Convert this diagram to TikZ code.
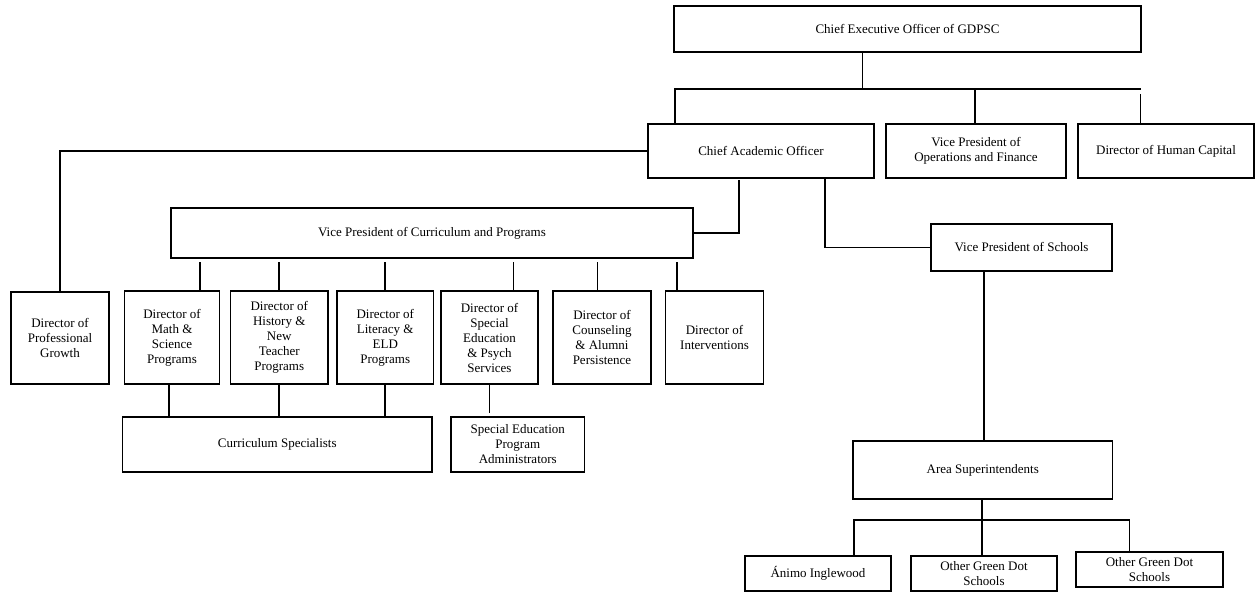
\documentclass[tikz,border=0pt]{standalone}
\usepackage{fontspec}
\setmainfont{Liberation Serif}
\begin{document}
\begin{tikzpicture}[x=1pt,y=-1pt,
  box/.style={draw, line width=1.9pt, inner sep=0pt, align=center,
    font=\fontsize{13}{15}\selectfont},
  conn/.style={line width=1.6pt}]
\useasboundingbox (0,0) rectangle (1256,592);
% top level
\node[box, minimum width=467pt, minimum height=46pt] (ceo) at (907.5,29) {Chief Executive Officer of GDPSC};
\node[box, minimum width=226pt, minimum height=54pt] (cao) at (761,151) {Chief Academic Officer};
\node[box, minimum width=180pt, minimum height=54pt] (ops) at (976,151) {Vice President of\\Operations and Finance};
\node[box, minimum width=176pt, minimum height=54pt] (hc) at (1166,151) {Director of Human Capital};
% second level
\node[box, minimum width=522pt, minimum height=50pt] (vpc) at (432,233) {Vice President of Curriculum and Programs};
\node[box, minimum width=181pt, minimum height=47pt] (vps) at (1021.5,247.5) {Vice President of Schools};
% directors
\node[box, minimum width=98pt, minimum height=92pt] (pg) at (60,338) {Director of\\Professional\\Growth};
\node[box, minimum width=95pt, minimum height=93pt] (math) at (172,337.5) {Director of\\Math \&\\Science\\Programs};
\node[box, minimum width=97.5pt, minimum height=93pt] (hist) at (279.25,337.5) {Director of\\History \&\\New\\Teacher\\Programs};
\node[box, minimum width=96.5pt, minimum height=93pt] (lit) at (385.25,337.5) {Director of\\Literacy \&\\ELD\\Programs};
\node[box, minimum width=97pt, minimum height=93pt] (sped) at (489.5,337.5) {Director of\\Special\\Education\\\& Psych\\Services};
\node[box, minimum width=98pt, minimum height=93pt] (couns) at (602,337.5) {Director of\\Counseling\\\& Alumni\\Persistence};
\node[box, minimum width=98pt, minimum height=93pt] (interv) at (714.5,337.5) {Director of\\Interventions};
% lower
\node[box, minimum width=309.5pt, minimum height=55pt] (cs) at (277.25,444.5) {Curriculum Specialists};
\node[box, minimum width=133.5pt, minimum height=55pt] (sepa) at (517.75,444.5) {Special Education\\Program\\Administrators};
\node[box, minimum width=259.5pt, minimum height=58pt] (as) at (982.75,470) {Area Superintendents};
\node[box, minimum width=146pt, minimum height=35pt] (animo) at (818,573.5) {Ánimo Inglewood};
\node[box, minimum width=146pt, minimum height=35pt] (oth1) at (984,573.5) {Other Green Dot\\Schools};
\node[box, minimum width=147pt, minimum height=35pt] (oth2) at (1149.5,569.5) {Other Green Dot\\Schools};
% coordinates
\coordinate (t0) at (862.5,89);
\coordinate (c1) at (675,89);
\coordinate (c2) at (975,89);
\coordinate (c4) at (1141,89);
\coordinate (c3) at (1140.5,94);
\coordinate (k1) at (739,180);
\coordinate (k2) at (825,178);
\coordinate (k3) at (984,271);
\coordinate (s0) at (982,520);
\coordinate (s1) at (854,520);
\coordinate (s2) at (1129.5,520);
\coordinate (d1) at (200,262);
\coordinate (d2) at (279,262);
\coordinate (d3) at (385,262);
\coordinate (d4) at (513.5,262);
\coordinate (d5) at (597.5,262);
\coordinate (d6) at (677,262);
\coordinate (e1) at (169,384);
% connectors
\draw[conn] (ceo.south -| t0) -- (t0);
\draw[conn] (c1 |- cao.north) -- (c1) -- (c4);
\draw[conn] (c2) -- (c2 |- ops.north);
\draw[conn] (c3) -- (c3 |- hc.north);
\draw[conn] (cao.west) -- (cao.west -| pg.north) -- (pg.north);
\draw[conn] (k1) -- (k1 |- vpc.east) -- (vpc.east);
\draw[conn] (cao.south -| k2) -- (k2 |- vps.west) -- (vps.west);
\draw[conn] (vps.south -| k3) -- (k3 |- as.north);
\draw[conn] (as.south -| s0) -- (s0 |- oth1.north);
\draw[conn] (s1 |- animo.north) -- (s1) -- (s2) -- (s2 |- oth2.north);
\draw[conn] (d1) -- (d1 |- math.north);
\draw[conn] (d2) -- (d2 |- hist.north);
\draw[conn] (d3) -- (d3 |- lit.north);
\draw[conn] (d4) -- (d4 |- sped.north);
\draw[conn] (d5) -- (d5 |- couns.north);
\draw[conn] (d6) -- (d6 |- interv.north);
\draw[conn] (math.south -| e1) -- (e1 |- cs.north);
\draw[conn] (hist.south) -- (hist.south |- cs.north);
\draw[conn] (lit.south) -- (lit.south |- cs.north);
\draw[conn] (sped.south) -- ([yshift=3pt]sped.south |- sepa.north);
\end{tikzpicture}
\end{document}
